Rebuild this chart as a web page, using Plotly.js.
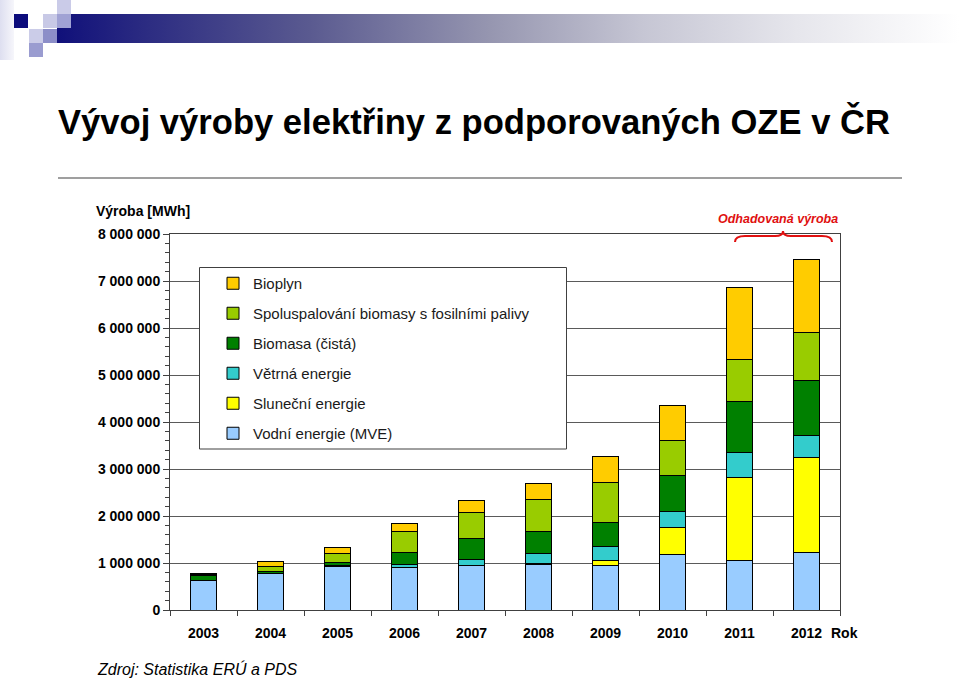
<!DOCTYPE html>
<html>
<head>
<meta charset="utf-8">
<script src="https://cdn.plot.ly/plotly-3.0.1.min.js"></script>
<style>
  html, body { margin: 0; padding: 0; background: #ffffff; }
  #wrap { position: relative; width: 959px; height: 678px; overflow: hidden; }
  #chart { position: absolute; left: 0; top: 0; width: 959px; height: 678px; }
  .deco { position: absolute; pointer-events: none; z-index: 5; }
</style>
</head>
<body>
<div id="wrap">
  <div id="chart"></div>
  <div class="deco" style="left:0;top:0;width:14px;height:60px;background:linear-gradient(to right,#dedff0,#f6f6fb);"></div>
  <div class="deco" style="left:57px;top:14px;width:902px;height:29px;background:linear-gradient(to right,#10107a 0%,#2c2c82 10%,#5a5a90 28%,#9696b0 48%,#c6c6d4 65%,#e6e6ec 82%,#fbfbfc 97%,#ffffff 100%);"></div>
  <div class="deco" style="left:14px;top:14px;width:14px;height:14px;background:#0c0c7c;"></div>
  <div class="deco" style="left:43px;top:14px;width:14px;height:14px;background:#c8c9e6;"></div>
  <div class="deco" style="left:57px;top:0px;width:14px;height:14px;background:#cacbe8;"></div>
  <div class="deco" style="left:57px;top:14px;width:14px;height:14px;background:#a0a2d4;"></div>
  <div class="deco" style="left:29px;top:29px;width:14px;height:14px;background:#cbcce8;"></div>
  <div class="deco" style="left:43px;top:29px;width:14px;height:14px;background:#8c8ec8;"></div>
  <div class="deco" style="left:29px;top:43px;width:14px;height:14px;background:#9a9cd0;"></div>
</div>
<script>
// ---- data (MWh) ----
const years = ["2003", "2004", "2005", "2006", "2007", "2008", "2009", "2010", "2011", "2012"];
const vodni      = [620000, 780000, 930000, 910000, 950000, 970000, 950000, 1190000, 1060000, 1220000];
const slunecni   = [0, 0, 0, 0, 0, 10000, 110000, 570000, 1750000, 2020000];
const vetrna     = [0, 0, 20000, 50000, 130000, 230000, 290000, 340000, 550000, 480000];
const biomasa    = [110000, 40000, 70000, 270000, 450000, 460000, 510000, 760000, 1080000, 1160000];
const spoluspal  = [20000, 100000, 190000, 430000, 550000, 680000, 860000, 750000, 900000, 1030000];
const bioplyn    = [30000, 110000, 120000, 190000, 240000, 340000, 550000, 740000, 1520000, 1550000];
const seriesNames = ["Vodní energie (MVE)", "Sluneční energie", "Větrná energie", "Biomasa (čistá)", "Spoluspalování biomasy s fosilními palivy", "Bioplyn"];
const seriesColors = ["#99CCFF", "#FFFF00", "#33CCCC", "#008000", "#99CC00", "#FFCC00"];
const yTickVals = [0, 1000000, 2000000, 3000000, 4000000, 5000000, 6000000, 7000000, 8000000];

const seriesValues = [vodni, slunecni, vetrna, biomasa, spoluspal, bioplyn];

// geometry helpers (px -> paper)
const L = 170, R = 840, T = 234, B = 610;
const X = px => (px - L) / (R - L);
const Y = py => (B - py) / (B - T);

const FONT = "Arial, Liberation Sans, sans-serif";

const traces = seriesValues.map((vals, i) => ({
  type: "bar",
  x: years,
  y: vals,
  name: seriesNames[i],
  legendgroup: "g" + i,
  legendrank: 1000 - i,
  marker: { color: seriesColors[i], line: { color: "#000000", width: 1 } },
  hoverinfo: "x+y+name"
}));

const brace = `M ${X(735)},${Y(242)} Q ${X(735)},${Y(236)} ${X(745)},${Y(236)} L ${X(775)},${Y(236)} Q ${X(783)},${Y(236)} ${X(783)},${Y(231)} Q ${X(783)},${Y(236)} ${X(791)},${Y(236)} L ${X(822)},${Y(236)} Q ${X(832)},${Y(236)} ${X(832)},${Y(242)}`;

const layout = {
  width: 959,
  height: 678,
  margin: { l: L, r: 959 - R, t: T, b: 678 - B, pad: 0 },
  paper_bgcolor: "rgba(0,0,0,0)",
  plot_bgcolor: "#ffffff",
  separators: ". ",
  font: { family: FONT, color: "#000000", size: 14 },
  barmode: "stack",
  bargap: 0.6,
  title: {
    text: "Vývoj výroby elektřiny z podporovaných OZE v ČR",
    font: { family: FONT, size: 34.6, weight: "bold", color: "#000000" },
    xref: "container", yref: "container",
    x: 58 / 959, xanchor: "left",
    y: 1 - 122 / 678, yanchor: "middle"
  },
  xaxis: {
    type: "category",
    showline: true, linecolor: "#404040", linewidth: 1, mirror: true,
    ticks: "outside", tickson: "boundaries", ticklen: 5, tickcolor: "#404040",
    ticklabelstandoff: 10,
    tickfont: { family: FONT, size: 14, weight: "bold", color: "#000000" },
    showgrid: false,
    fixedrange: true
  },
  yaxis: {
    range: [0, 8000000],
    tickvals: yTickVals,
    tickformat: ",d",
    showline: true, linecolor: "#404040", linewidth: 1, mirror: true,
    ticks: "outside", ticklen: 6, tickcolor: "#404040",
    minor: { dtick: 200000, ticks: "outside", ticklen: 4, tickcolor: "#404040", showgrid: false },
    tickfont: { family: FONT, size: 14, weight: "bold", color: "#000000" },
    showgrid: true, gridcolor: "#5a5a5a", gridwidth: 1,
    zeroline: false,
    fixedrange: true
  },
  showlegend: true,
  legend: {
    x: X(213), xanchor: "left",
    y: Y(267), yanchor: "top",
    bgcolor: "rgba(0,0,0,0)",
    borderwidth: 0,
    traceorder: "grouped",
    tracegroupgap: 7.5,
    font: { family: FONT, size: 15, color: "#1a1a1a" }
  },
  shapes: [
    { type: "line", xref: "paper", yref: "paper", x0: X(58), x1: X(902), y0: Y(178), y1: Y(178), line: { color: "#7f7f7f", width: 1.5 } },
    { type: "rect", xref: "paper", yref: "paper", x0: X(199.5), x1: X(566.5), y0: Y(267.5), y1: Y(449), fillcolor: "#ffffff", line: { color: "#404040", width: 1 }, layer: "above" },
    { type: "path", xref: "paper", yref: "paper", path: brace, line: { color: "#e01010", width: 2 } }
  ],
  annotations: [
    { xref: "paper", yref: "paper", x: X(94), y: Y(211), xanchor: "left", yanchor: "middle", showarrow: false,
      text: "Výroba [MWh]", font: { family: FONT, size: 14, weight: "bold", color: "#000000" } },
    { xref: "paper", yref: "paper", x: X(777.5), y: Y(219), xanchor: "center", yanchor: "middle", showarrow: false,
      text: "Odhadovaná výroba", font: { family: FONT, size: 12.5, weight: "bold", style: "italic", color: "#e01010" } },
    { xref: "paper", yref: "paper", x: X(829), y: Y(633), xanchor: "left", yanchor: "middle", showarrow: false,
      text: "Rok", font: { family: FONT, size: 14, weight: "bold", color: "#000000" } },
    { xref: "paper", yref: "paper", x: X(95), y: Y(669), xanchor: "left", yanchor: "middle", showarrow: false,
      text: "Zdroj: Statistika ERÚ a PDS", font: { family: FONT, size: 16, style: "italic", color: "#000000" } }
  ]
};

Plotly.newPlot("chart", traces, layout, { displayModeBar: false, staticPlot: true });
</script>
</body>
</html>
